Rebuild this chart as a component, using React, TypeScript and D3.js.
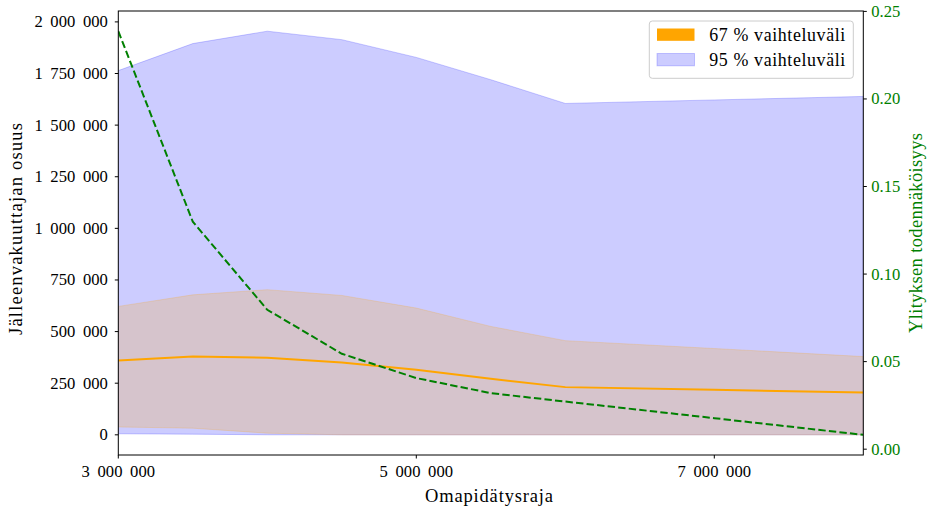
import React from 'react';
import * as d3 from 'd3';

// omapidätysraja (x) values
const limits = [3000000, 3500000, 4000000, 4500000, 5000000, 5500000, 6000000, 7000000, 8000000];
const median = [360000, 379000, 373000, 350000, 315000, 271000, 231000, 218000, 205000];
const low67 = [38000, 32000, 8000, 0, 0, 0, 0, 0, 0];
const high67 = [622000, 678000, 703000, 675000, 614000, 525000, 456000, 418000, 379000];
const low95 = [5000, 3000, 0, 0, 0, 0, 0, 0, 0];
const high95 = [1764000, 1895000, 1955000, 1914000, 1828000, 1720000, 1605000, 1622000, 1639000];
const exceedProb = [0.2387, 0.1299, 0.0796, 0.0545, 0.0406, 0.032, 0.0272, 0.0177, 0.0082];

const xTicks = [3000000, 5000000, 7000000];
const yTicks = [0, 250000, 500000, 750000, 1000000, 1250000, 1500000, 1750000, 2000000];
const y2Ticks = [0, 0.05, 0.1, 0.15, 0.2, 0.25];
const legendLabels = ['67 % vaihteluväli', '95 % vaihteluväli'];

const W = 927;
const H = 507;
const m = { left: 118.3, right: 863.3, top: 11, bottom: 455 };
const font = '"Liberation Serif", "DejaVu Serif", serif';
const tickFs = 16.6;
const labelFs = 18.5;

// matplotlib style 5% margins
const pad = (lo: number, hi: number): [number, number] => {
  const r = hi - lo;
  return [lo - r * 0.05, hi + r * 0.05];
};

const fmtSpace = (v: number) => d3.format(',')(v).replace(/,/g, ' ');

export default function App() {
  const x = d3.scaleLinear().domain([3000000, 8000000]).range([m.left, m.right]);
  const y = d3.scaleLinear()
    .domain(pad(Math.min(...low95), Math.max(...high95)))
    .range([m.bottom, m.top]);
  const y2 = d3.scaleLinear()
    .domain(pad(Math.min(...exceedProb), Math.max(...exceedProb)))
    .range([m.bottom, m.top]);

  const idx = limits.map((_, i) => i);
  const band = (lo: number[], hi: number[]) =>
    d3.area<number>().x(i => x(limits[i])).y0(i => y(lo[i])).y1(i => y(hi[i]))(idx) || '';
  const medLine = d3.line<number>().x(i => x(limits[i])).y(i => y(median[i]))(idx) || '';
  const probLine = d3.line<number>().x(i => x(limits[i])).y(i => y2(exceedProb[i]))(idx) || '';

  const green = '#008000';
  const orange = '#ffa500';

  return (
    <div style={{ position: 'absolute', left: 0, top: 0 }}>
      <svg width={W} height={H} style={{ display: 'block', fontFamily: font }}>
        <rect width={W} height={H} fill="#fff" />
        <defs>
          <clipPath id="plot">
            <rect x={m.left} y={m.top} width={m.right - m.left} height={m.bottom - m.top} />
          </clipPath>
        </defs>

        <g clipPath="url(#plot)">
          <path d={band(low95, high95)} fill="rgba(0,0,255,0.2)" stroke="rgba(0,0,255,0.2)" strokeWidth={1} />
          <path d={band(low67, high67)} fill="rgba(255,165,0,0.2)" stroke="rgba(255,165,0,0.2)" strokeWidth={1} />
          <path d={medLine} fill="none" stroke={orange} strokeWidth={2} />
          <path d={probLine} fill="none" stroke={green} strokeWidth={2} strokeDasharray="7.4,3.2" />
        </g>

        {/* spines */}
        <rect x={m.left} y={m.top} width={m.right - m.left} height={m.bottom - m.top}
          fill="none" stroke="#000" strokeWidth={1} />

        {/* left axis */}
        {yTicks.map(t => (
          <g key={'y' + t}>
            <line x1={m.left - 3.5} x2={m.left} y1={y(t)} y2={y(t)} stroke="#000" />
            <text x={m.left - 10.5} y={y(t) + 5.5} textAnchor="end" fontSize={tickFs}
              style={{ wordSpacing: '3.5px' }} fill="#000">{fmtSpace(t)}</text>
          </g>
        ))}

        {/* right axis */}
        {y2Ticks.map(t => (
          <g key={'r' + t}>
            <line x1={m.right} x2={m.right + 3.5} y1={y2(t)} y2={y2(t)} stroke="#000" />
            <text x={m.right + 8} y={y2(t) + 5.5} textAnchor="start" fontSize={tickFs} fill={green}>{t.toFixed(2)}</text>
          </g>
        ))}

        {/* bottom axis */}
        {xTicks.map(t => (
          <g key={'x' + t}>
            <line x1={x(t)} x2={x(t)} y1={m.bottom} y2={m.bottom + 3.5} stroke="#000" />
            <text x={x(t)} y={477} textAnchor="middle" fontSize={tickFs}
              style={{ wordSpacing: '3.5px' }} fill="#000">{fmtSpace(t)}</text>
          </g>
        ))}

        <text x={489} y={502} textAnchor="middle" fontSize={labelFs}
          textLength={128} lengthAdjust="spacing">Omapidätysraja</text>
        <text transform={`translate(21.5,229) rotate(-90)`} textAnchor="middle" fontSize={labelFs}
          textLength={212} lengthAdjust="spacing">Jälleenvakuuttajan osuus</text>
        <text transform={`translate(921.5,233) rotate(-90)`} textAnchor="middle" fontSize={labelFs}
          textLength={200} lengthAdjust="spacing" fill={green}>Ylityksen todennäköisyys</text>

        {/* legend */}
        <g>
          <rect x={649.3} y={21} width={204} height={57.3} rx={3} fill="rgba(255,255,255,0.8)" stroke="#cccccc" />
          <rect x={657} y={28.5} width={37.5} height={12.3} fill={orange} />
          <rect x={657} y={53.5} width={37.5} height={12.3} fill="rgba(0,0,255,0.2)" stroke="rgba(0,0,255,0.2)" />
          <text x={709.3} y={41} fontSize={17.9} textLength={136} lengthAdjust="spacing">{legendLabels[0]}</text>
          <text x={709.3} y={66} fontSize={17.9} textLength={136} lengthAdjust="spacing">{legendLabels[1]}</text>
        </g>
      </svg>
    </div>
  );
}
